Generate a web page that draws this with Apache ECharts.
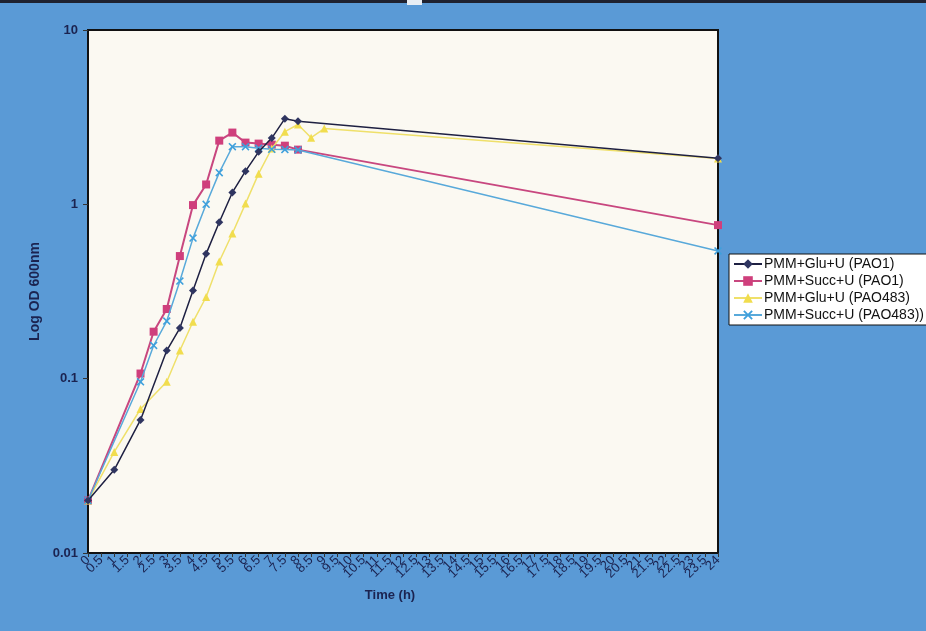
<!DOCTYPE html>
<html>
<head>
<meta charset="utf-8">
<script src="https://cdn.jsdelivr.net/npm/echarts@6/dist/echarts.min.js"></script>
<style>
  html, body { margin: 0; padding: 0; background: #5b9bd5; }
  #chart { width: 926px; height: 631px; }
</style>
</head>
<body>
<div id="chart"></div>
<script>
// Time axis categories (hours)
var hours = ['0','0.5','1','1.5','2','2.5','3','3.5','4','4.5','5','5.5','6','6.5','7','7.5',
  '8','8.5','9','9.5','10','10.5','11','11.5','12','12.5','13','13.5','14','14.5','15','15.5',
  '16','16.5','17','17.5','18','18.5','19','19.5','20','20.5','21','21.5','22','22.5','23','23.5','24'];

// Y axis decade labels
var odTicks = [0.01, 0.1, 1, 10];

// Series names
var seriesNames = ['PMM+Glu+U (PAO1)', 'PMM+Succ+U (PAO1)', 'PMM+Glu+U (PAO483)', 'PMM+Succ+U (PAO483))'];

// Sampling times and OD600 readings per culture
var gluPao1Times  = ['0','1','2','3','3.5','4','4.5','5','5.5','6','6.5','7','7.5','8','24'];
var gluPao1OD     = [0.02, 0.03, 0.058, 0.145, 0.195, 0.32, 0.52, 0.79, 1.17, 1.55, 2.0, 2.4, 3.1, 3.0, 1.84];

var succPao1Times = ['0','2','2.5','3','3.5','4','4.5','5','5.5','6','6.5','7','7.5','8','24'];
var succPao1OD    = [0.02, 0.107, 0.186, 0.251, 0.505, 0.99, 1.3, 2.32, 2.58, 2.26, 2.23, 2.2, 2.17, 2.06, 0.76];

var gluPao483Times = ['0','1','2','3','3.5','4','4.5','5','5.5','6','6.5','7','7.5','8','8.5','9','24'];
var gluPao483OD    = [0.02, 0.038, 0.067, 0.096, 0.145, 0.212, 0.294, 0.47, 0.68, 1.01, 1.5, 2.09, 2.61, 2.87, 2.41, 2.72, 1.83];

var succPao483Times = ['0','2','2.5','3','3.5','4','4.5','5','5.5','6','6.5','7','7.5','8','24'];
var succPao483OD    = [0.02, 0.096, 0.155, 0.214, 0.363, 0.64, 1.0, 1.52, 2.14, 2.14, 2.1, 2.07, 2.06, 2.05, 0.54];

function pairs(times, vals) {
  return times.map(function (t, i) { return [t, vals[i]]; });
}

var crossSymbol = 'path://M0,1.4L1.4,0L5,3.6L8.6,0L10,1.4L6.4,5L10,8.6L8.6,10L5,6.4L1.4,10L0,8.6L3.6,5Z';

var navy = '#1b2350';

var chart = echarts.init(document.getElementById('chart'), null, { renderer: 'canvas' });

chart.setOption({
  backgroundColor: '#5a9ad6',
  animation: false,
  textStyle: { fontFamily: 'Liberation Sans, Arial, sans-serif' },
  graphic: [
    { type: 'rect', left: 0, top: 0, shape: { width: 926, height: 3 }, style: { fill: '#1f2230' } },
    { type: 'rect', left: 407, top: 0, shape: { width: 15, height: 5 }, style: { fill: '#e8eef4' } }
  ],
  grid: {
    left: 88, right: 208, top: 30, bottom: 78,
    show: true,
    backgroundColor: '#fbf9f2',
    borderColor: '#111111',
    borderWidth: 2
  },
  legend: {
    orient: 'vertical',
    left: 729, top: 254,
    backgroundColor: '#ffffff',
    borderColor: '#111111',
    borderWidth: 1,
    padding: [3, 4, 3, 4],
    itemGap: 3,
    itemWidth: 28,
    itemHeight: 12,
    textStyle: { fontSize: 14, color: '#111111', padding: [0, 0, 0, -3] },
    data: seriesNames.map(function (n) { return { name: n, itemStyle: { borderWidth: 0 } }; })
  },
  xAxis: {
    type: 'category',
    data: hours,
    boundaryGap: false,
    name: 'Time (h)',
    nameLocation: 'middle',
    nameGap: 36,
    nameTextStyle: { fontSize: 13, fontWeight: 'bold', color: navy, padding: [0, 26, 0, 0] },
    axisLine: { show: true, lineStyle: { color: '#111111', width: 2 } },
    axisTick: { show: true, inside: false, length: 4, interval: 0, lineStyle: { color: '#333' } },
    axisLabel: { interval: 0, rotate: 45, fontSize: 13, color: navy, margin: 5 },
    splitLine: { show: false }
  },
  yAxis: {
    type: 'log',
    logBase: 10,
    min: odTicks[0],
    max: odTicks[odTicks.length - 1],
    name: 'Log OD 600nm',
    nameLocation: 'middle',
    nameGap: 45,
    nameTextStyle: { fontSize: 14, fontWeight: 'bold', color: navy },
    axisLine: { show: true, lineStyle: { color: '#111111', width: 2 } },
    axisTick: { show: true, length: 5, lineStyle: { color: '#333' } },
    axisLabel: {
      fontSize: 13, fontWeight: 'bold', color: navy, margin: 10,
      formatter: function (v) {
        var hit = odTicks.filter(function (t) { return Math.abs(t - v) / t < 1e-6; });
        return hit.length ? String(hit[0]) : '';
      }
    },
    splitLine: { show: false }
  },
  series: [
    {
      name: seriesNames[0], type: 'line', data: pairs(gluPao1Times, gluPao1OD),
      symbol: 'diamond', symbolSize: 8, z: 5,
      lineStyle: { color: '#1e2042', width: 1.5 },
      itemStyle: { color: '#2f3560' }
    },
    {
      name: seriesNames[1], type: 'line', data: pairs(succPao1Times, succPao1OD),
      symbol: 'rect', symbolSize: 8, z: 3,
      lineStyle: { color: '#c8477f', width: 2 },
      itemStyle: { color: '#cf3f7c' }
    },
    {
      name: seriesNames[2], type: 'line', data: pairs(gluPao483Times, gluPao483OD),
      symbol: 'triangle', symbolSize: 8, z: 4,
      lineStyle: { color: '#efe06a', width: 1.5 },
      itemStyle: { color: '#f1dd4e' }
    },
    {
      name: seriesNames[3], type: 'line', data: pairs(succPao483Times, succPao483OD),
      symbol: crossSymbol, symbolSize: 8, z: 4,
      lineStyle: { color: '#58a9da', width: 1.5 },
      itemStyle: { color: '#3fa0dc' }
    }
  ]
});
</script>
</body>
</html>
